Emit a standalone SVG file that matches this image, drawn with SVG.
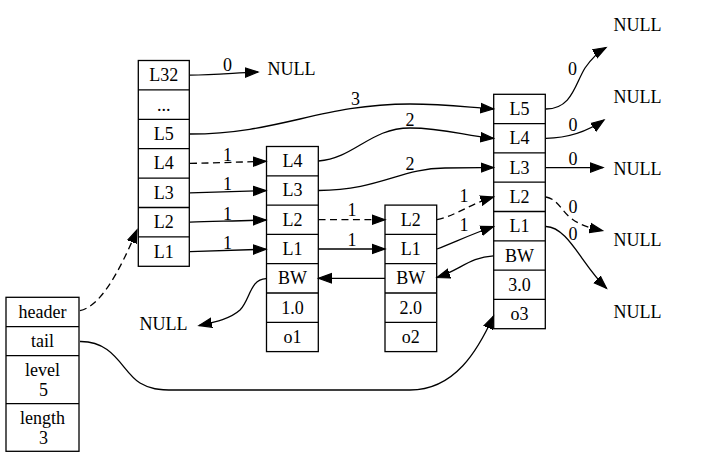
<svg xmlns="http://www.w3.org/2000/svg" width="719" height="476" viewBox="0 0 719 476">
  <style>
    .box { fill: #fff; stroke: #000; stroke-width: 1.3; }
    .sep { stroke: #000; stroke-width: 1.3; }
    .edge { fill: none; stroke: #000; stroke-width: 1.3; marker-end: url(#arrow); }
    .dash { stroke-dasharray: 7 4.5; }
  </style>
  <defs>
    <marker id="arrow" markerUnits="userSpaceOnUse" markerWidth="16" markerHeight="12" viewBox="0 -6 16 12" refX="13" refY="0" orient="auto">
      <path d="M0,-4.7 L13,0 L0,4.7 Z" fill="#000" stroke="#000" stroke-width="1.2"/>
    </marker>
  </defs>

  <g font-family="'Liberation Serif', 'Times New Roman', Tinos, 'DejaVu Serif', serif" font-size="18" text-anchor="middle" fill="#000">
  <!-- list structure -->
  <g id="list">
    <rect class="box" x="6" y="297.3" width="73" height="154"/>
    <line class="sep" x1="6" y1="326.7" x2="79" y2="326.7"/>
    <line class="sep" x1="6" y1="355.7" x2="79" y2="355.7"/>
    <line class="sep" x1="6" y1="403.7" x2="79" y2="403.7"/>
    <text x="42.5" y="318">header</text>
    <text x="42.5" y="347">tail</text>
    <text x="42.5" y="375.5">level</text>
    <text x="43.5" y="395.5">5</text>
    <text x="42.5" y="423.5">length</text>
    <text x="43.5" y="443.5">3</text>
  </g>

  <!-- header node -->
  <g id="node0">
    <rect class="box" x="138.3" y="60.5" width="51" height="205.8"/>
    <line class="sep" x1="138.3" y1="89.9" x2="189.3" y2="89.9"/>
    <line class="sep" x1="138.3" y1="119.3" x2="189.3" y2="119.3"/>
    <line class="sep" x1="138.3" y1="148.7" x2="189.3" y2="148.7"/>
    <line class="sep" x1="138.3" y1="178.1" x2="189.3" y2="178.1"/>
    <line class="sep" x1="138.3" y1="207.5" x2="189.3" y2="207.5"/>
    <line class="sep" x1="138.3" y1="236.9" x2="189.3" y2="236.9"/>
    <text x="163.8" y="81.2">L32</text>
    <text x="163.8" y="110.6">...</text>
    <text x="163.8" y="140">L5</text>
    <text x="163.8" y="169.4">L4</text>
    <text x="163.8" y="198.8">L3</text>
    <text x="163.8" y="228.2">L2</text>
    <text x="163.8" y="257.6">L1</text>
  </g>

  <!-- node o1 -->
  <g id="node1">
    <rect class="box" x="266.5" y="146.5" width="51.8" height="205.1"/>
    <line class="sep" x1="266.5" y1="175.8" x2="318.3" y2="175.8"/>
    <line class="sep" x1="266.5" y1="205.1" x2="318.3" y2="205.1"/>
    <line class="sep" x1="266.5" y1="234.4" x2="318.3" y2="234.4"/>
    <line class="sep" x1="266.5" y1="263.7" x2="318.3" y2="263.7"/>
    <line class="sep" x1="266.5" y1="293" x2="318.3" y2="293"/>
    <line class="sep" x1="266.5" y1="322.3" x2="318.3" y2="322.3"/>
    <text x="292.4" y="167.1">L4</text>
    <text x="292.4" y="196.4">L3</text>
    <text x="292.4" y="225.7">L2</text>
    <text x="292.4" y="255">L1</text>
    <text x="292.4" y="284.3">BW</text>
    <text x="292.4" y="313.6">1.0</text>
    <text x="292.4" y="343">o1</text>
  </g>

  <!-- node o2 -->
  <g id="node2">
    <rect class="box" x="385" y="205.1" width="51.7" height="146.5"/>
    <line class="sep" x1="385" y1="234.4" x2="436.7" y2="234.4"/>
    <line class="sep" x1="385" y1="263.7" x2="436.7" y2="263.7"/>
    <line class="sep" x1="385" y1="293" x2="436.7" y2="293"/>
    <line class="sep" x1="385" y1="322.3" x2="436.7" y2="322.3"/>
    <text x="410.8" y="225.7">L2</text>
    <text x="410.8" y="255">L1</text>
    <text x="410.8" y="284.3">BW</text>
    <text x="410.8" y="313.6">2.0</text>
    <text x="410.8" y="343">o2</text>
  </g>

  <!-- node o3 -->
  <g id="node3">
    <rect class="box" x="493.7" y="94.3" width="51.6" height="234.4"/>
    <line class="sep" x1="493.7" y1="123.6" x2="545.3" y2="123.6"/>
    <line class="sep" x1="493.7" y1="152.9" x2="545.3" y2="152.9"/>
    <line class="sep" x1="493.7" y1="182.2" x2="545.3" y2="182.2"/>
    <line class="sep" x1="493.7" y1="211.5" x2="545.3" y2="211.5"/>
    <line class="sep" x1="493.7" y1="240.8" x2="545.3" y2="240.8"/>
    <line class="sep" x1="493.7" y1="270.1" x2="545.3" y2="270.1"/>
    <line class="sep" x1="493.7" y1="299.4" x2="545.3" y2="299.4"/>
    <text x="519.5" y="115">L5</text>
    <text x="519.5" y="144.3">L4</text>
    <text x="519.5" y="173.6">L3</text>
    <text x="519.5" y="202.9">L2</text>
    <text x="519.5" y="232.2">L1</text>
    <text x="519.5" y="261.5">BW</text>
    <text x="519.5" y="290.8">3.0</text>
    <text x="519.5" y="320">o3</text>
  </g>

  <!-- NULL terminals -->
  <g id="null0"><text x="291.5" y="75">NULL</text></g>
  <g id="null1"><text x="637.5" y="31">NULL</text></g>
  <g id="null2"><text x="637.5" y="102.5">NULL</text></g>
  <g id="null3"><text x="637.5" y="174.5">NULL</text></g>
  <g id="null4"><text x="637.5" y="246">NULL</text></g>
  <g id="null5"><text x="637.5" y="317.5">NULL</text></g>
  <g id="null6"><text x="163.5" y="329.5">NULL</text></g>

  <!-- connectors -->
  <g id="edges">
    <path class="edge" d="M190,75.2 C215,74.5 235,73 258,72"/>
    <text x="227.5" y="71">0</text>

    <path class="edge" d="M190,134 C280,134 320,104 410,104 C445,104 465,107 493.5,109"/>
    <text x="355.5" y="105">3</text>

    <path class="edge dash" d="M190,163.4 C215,163 240,162 266,161.3"/>
    <text x="227.5" y="161">1</text>
    <path class="edge" d="M190,192.8 C215,192.3 240,191.2 266,190.6"/>
    <text x="227.5" y="190">1</text>
    <path class="edge" d="M190,222.2 C215,221.6 240,220.5 266,220"/>
    <text x="227.5" y="219.5">1</text>
    <path class="edge" d="M190,251.6 C215,251 240,249.8 266,249.2"/>
    <text x="227.5" y="248.5">1</text>

    <path class="edge" d="M318.5,161 C355,158 370,128 410,128 C445,128 465,136 493.5,138.3"/>
    <text x="410" y="126">2</text>
    <path class="edge" d="M318.5,190.5 C380,190 400,168.5 445,168 C465,167.7 478,167.6 493.5,167.6"/>
    <text x="410" y="170">2</text>

    <path class="edge dash" d="M318.5,219.7 C340,219.7 360,219.7 385,219.7"/>
    <text x="352" y="216">1</text>
    <path class="edge" d="M318.5,249 C340,249 360,249 385,249"/>
    <text x="352" y="246">1</text>

    <path class="edge dash" d="M437,219.7 C455,216 470,204 493.5,197"/>
    <text x="464" y="202">1</text>
    <path class="edge" d="M437,249 C455,242 472,234 493.5,226.5"/>
    <text x="464" y="231">1</text>

    <path class="edge" d="M493.5,255.8 C470,257 460,270 437,277.5"/>
    <path class="edge" d="M385,278.3 C360,278.3 340,278.3 318.5,278.3"/>
    <path class="edge" d="M266,278.6 C250,279 250,300 240,310 C230,319 215,322 199,325.5"/>

    <path class="edge" d="M546,109 C572,109 575,84 585,68 C592,58 598,52 606,47.5"/>
    <text x="572.5" y="75">0</text>
    <path class="edge" d="M546,138.3 C570,138 588,131 604,120"/>
    <text x="573" y="130.5">0</text>
    <path class="edge" d="M546,167.6 C565,167.6 585,167.6 603,167.6"/>
    <text x="573" y="165">0</text>
    <path class="edge dash" d="M546,197 C558,199 562,212 572,219 C580,225 590,228 602.5,230.7"/>
    <text x="573" y="213">0</text>
    <path class="edge" d="M546,226.5 C568,227 582,265 606.5,288.3"/>
    <text x="573" y="239.5">0</text>

    <path class="edge dash" d="M80,310.7 C100,306 118,275 137,230"/>
    <path class="edge" d="M80,341.5 C115,341 122,372 140,383 C150,389 158,390 175,390 L410,390 C455,390 478,350 493.5,316"/>
  </g>
  </g>
</svg>
